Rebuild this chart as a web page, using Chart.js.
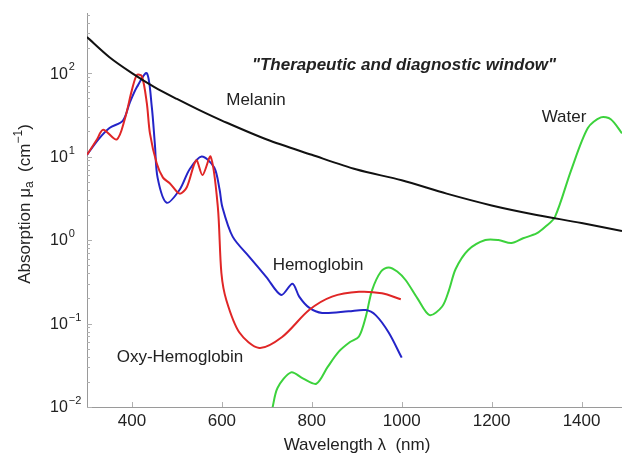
<!DOCTYPE html>
<html>
<head>
<meta charset="utf-8">
<script src="https://cdn.jsdelivr.net/npm/chart.js@4/dist/chart.umd.min.js"></script>
<style>
  html, body { margin: 0; padding: 0; background: #fff; }
  #wrap { width: 622px; height: 457px; }
</style>
</head>
<body>
<div id="wrap"><canvas id="absChart"></canvas></div>
<script>
// Absorption spectra of the main tissue chromophores
const melaninWl = [300, 350, 400, 450, 500, 550, 600, 700, 800, 900, 1000, 1100, 1200, 1300, 1400, 1490];
const melaninMu = [270, 155, 100, 68, 49, 36, 27, 16, 10.5, 7, 5.2, 3.6, 2.6, 2.0, 1.6, 1.28];

const hbWl = [300, 325, 350, 380, 395, 411, 433, 444, 451, 457, 477, 506, 528, 555, 583, 595, 601, 624, 661, 699, 732, 757, 772, 794, 823, 882, 920, 942, 971, 1000];
const hbMu = [10.5, 16, 22, 27, 44, 68, 100, 40, 14, 5.6, 2.8, 4, 7, 10, 7.4, 4, 2.5, 1.1, 0.63, 0.36, 0.22, 0.3, 0.21, 0.155, 0.134, 0.14, 0.145, 0.126, 0.078, 0.039];

const hbo2Wl = [300, 322, 336, 366, 384, 400, 411, 422, 433, 440, 455, 469, 484, 506, 522, 543, 557, 575, 591, 599, 610, 639, 683, 734, 794, 845, 905, 956, 998];
const hbo2Mu = [10.5, 16, 21, 16, 28, 63, 95, 92, 44, 19, 8.3, 5.6, 4.8, 3.6, 4.3, 9, 6, 10, 2.5, 0.4, 0.19, 0.078, 0.051, 0.069, 0.145, 0.21, 0.24, 0.23, 0.195];

const waterWl = [712, 724, 754, 780, 810, 835, 860, 885, 905, 920, 934, 954, 971, 990, 1009, 1035, 1062, 1090, 1105, 1120, 1148, 1186, 1215, 1244, 1270, 1300, 1320, 1341, 1377, 1414, 1443, 1465, 1490];
const waterMu = [0.0095, 0.017, 0.026, 0.022, 0.019, 0.03, 0.046, 0.06, 0.07, 0.12, 0.25, 0.42, 0.47, 0.42, 0.33, 0.2, 0.126, 0.16, 0.25, 0.45, 0.76, 1.0, 1.0, 0.92, 1.05, 1.2, 1.45, 1.9, 6.9, 22, 29.5, 28, 19];

const xTicks = [400, 600, 800, 1000, 1200, 1400];
const yTicks = [0.01, 0.1, 1, 10, 100];
const yExp = ['-2', '-1', '0', '1', '2'];

const FONT = '"Liberation Sans", Arial, Helvetica, sans-serif';
const pts = (wl, mu) => wl.map((x, i) => ({ x: x, y: mu[i] }));

const line = (label, wl, mu, color) => ({
  label: label,
  data: pts(wl, mu),
  borderColor: color,
  borderWidth: 2,
  pointRadius: 0,
  tension: 0.3,
  fill: false,
});

// axis decorations and in-plot labels
const overlay = {
  id: 'overlay',
  afterDraw(chart) {
    const { ctx, chartArea: a, scales: { x, y } } = chart;
    ctx.save();

    // inward tick marks
    ctx.strokeStyle = '#b0b0b0';
    ctx.lineWidth = 1;
    ctx.beginPath();
    for (let e = -2; e <= 2; e++) {
      for (let m = 1; m <= 9; m++) {
        const v = m * Math.pow(10, e);
        if (v > y.max) break;
        const py = Math.round(y.getPixelForValue(v)) + 0.5;
        ctx.moveTo(a.left, py);
        ctx.lineTo(a.left + (m === 1 ? 5 : 3), py);
      }
    }
    xTicks.forEach(v => {
      const px = Math.round(x.getPixelForValue(v)) + 0.5;
      ctx.moveTo(px, a.bottom);
      ctx.lineTo(px, a.bottom - 5);
    });
    ctx.stroke();

    ctx.fillStyle = '#222';
    ctx.textBaseline = 'middle';

    // y tick labels 10^n
    yTicks.forEach((v, i) => {
      const py = y.getPixelForValue(v);
      ctx.font = '16px ' + FONT;
      ctx.textAlign = 'left';
      ctx.fillText('10', 50, py + 1);
      const w = ctx.measureText('10').width;
      ctx.font = '11px ' + FONT;
      ctx.fillText(yExp[i].replace('-', '\u2212'), 50 + w + 1, py - 6);
    });

    // y axis title with sub/superscripts
    ctx.save();
    ctx.translate(25, (a.top + a.bottom) / 2 - 6);
    ctx.rotate(-Math.PI / 2);
    const parts = [
      ['Absorption \u03bc', 17, 0],
      ['a', 12, 5],
      ['  (cm', 17, 0],
      ['\u22121', 12, -6],
      [')', 17, 0],
    ];
    let total = 0;
    parts.forEach(p => { ctx.font = p[1] + 'px ' + FONT; total += ctx.measureText(p[0]).width; });
    let cx = -total / 2;
    ctx.textAlign = 'left';
    parts.forEach(p => {
      ctx.font = p[1] + 'px ' + FONT;
      ctx.fillText(p[0], cx, p[2]);
      cx += ctx.measureText(p[0]).width;
    });
    ctx.restore();

    // x axis title
    ctx.textAlign = 'center';
    ctx.font = '17px ' + FONT;
    ctx.fillText('Wavelength \u03bb  (nm)', 357, 445);

    // curve labels
    ctx.fillText('Melanin', 256, 100);
    ctx.fillText('Water', 564, 117);
    ctx.fillText('Hemoglobin', 318, 265);
    ctx.fillText('Oxy-Hemoglobin', 180, 357);

    ctx.font = 'italic bold 17px ' + FONT;
    ctx.fillText('"Therapeutic and diagnostic window"', 404, 65);

    ctx.restore();
  },
};

new Chart(document.getElementById('absChart'), {
  type: 'line',
  data: {
    datasets: [
      line('Melanin', melaninWl, melaninMu, '#111111'),
      line('Oxy-Hemoglobin', hbo2Wl, hbo2Mu, '#e02626'),
      line('Hemoglobin', hbWl, hbMu, '#2424c8'),
      line('Water', waterWl, waterMu, '#3cd23c'),
    ],
  },
  options: {
    responsive: true,
    maintainAspectRatio: false,
    animation: false,
    layout: { padding: { top: 13, right: 0, left: 0, bottom: 0 } },
    plugins: { legend: { display: false }, tooltip: { enabled: false } },
    scales: {
      x: {
        type: 'linear',
        min: 300,
        max: 1490,
        afterBuildTicks: s => { s.ticks = xTicks.map(v => ({ value: v })); },
        afterFit: s => { s.height = 50; },
        grid: { display: false, drawTicks: false },
        border: { color: '#9a9a9a', width: 1 },
        ticks: {
          padding: 4,
          color: '#222',
          font: { family: FONT, size: 17 },
          callback: v => String(v),
        },
      },
      y: {
        type: 'logarithmic',
        min: 0.01,
        max: 525,
        afterFit: s => { s.width = 87; },
        grid: { display: false, drawTicks: false },
        border: { color: '#9a9a9a', width: 1 },
        ticks: { display: false },
      },
    },
  },
  plugins: [overlay],
});
</script>
</body>
</html>
